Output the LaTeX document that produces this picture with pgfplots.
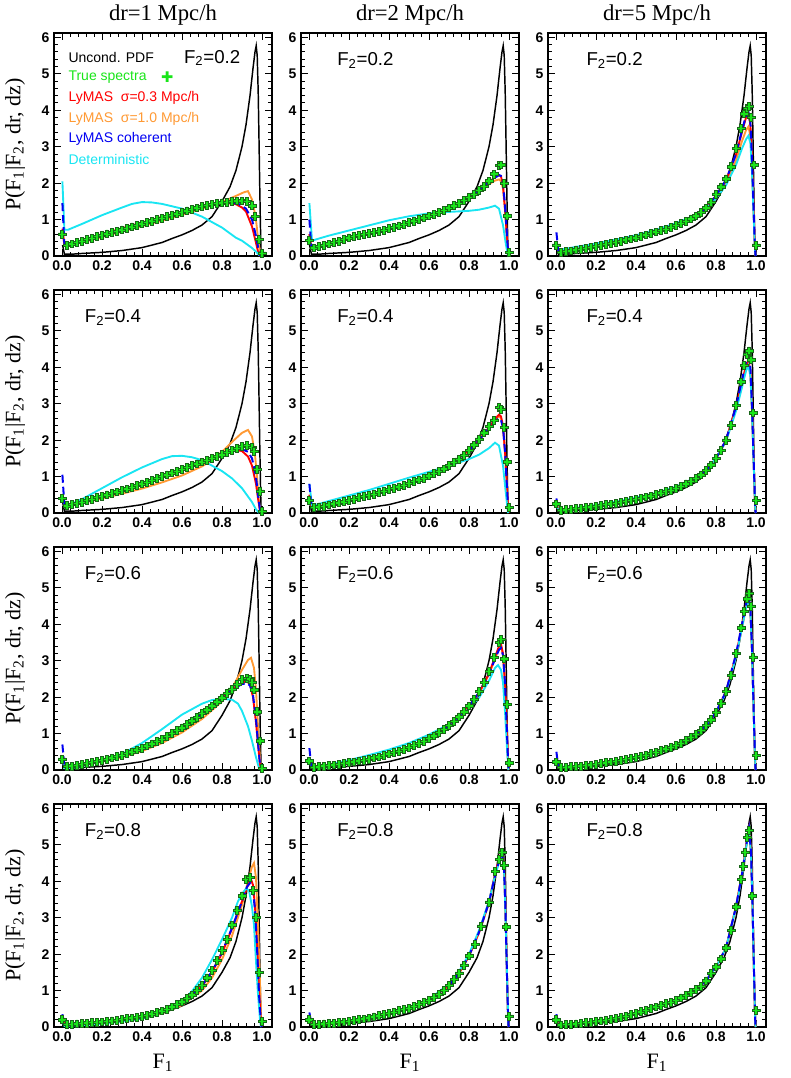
\documentclass[border=0pt]{standalone}
\usepackage{fontspec}
\setmainfont{Liberation Serif}
\setsansfont{Liberation Sans}[BoldFont={Liberation Sans Bold}]
\newfontfamily\dejavu{DejaVu Sans}
\usepackage{pgfplots}
\usepackage{pgfplotstable}
\pgfplotsset{compat=1.18}

\definecolor{tgreen}{rgb}{0.1,0.9,0.1}
\definecolor{dgreen}{rgb}{0.1,0.4,0.1}
\definecolor{lred}{rgb}{1,0,0}
\definecolor{lorange}{rgb}{1,0.6,0.2}
\definecolor{lblue}{rgb}{0,0,0.95}
\definecolor{lcyan}{rgb}{0.1,0.9,0.95}

% filled cross marker (ROOT style 34)
\pgfdeclareplotmark{fcross}{%
  \pgfpathmoveto{\pgfqpoint{-0.3\pgfplotmarksize}{\pgfplotmarksize}}%
  \pgfpathlineto{\pgfqpoint{0.3\pgfplotmarksize}{\pgfplotmarksize}}%
  \pgfpathlineto{\pgfqpoint{0.3\pgfplotmarksize}{0.3\pgfplotmarksize}}%
  \pgfpathlineto{\pgfqpoint{\pgfplotmarksize}{0.3\pgfplotmarksize}}%
  \pgfpathlineto{\pgfqpoint{\pgfplotmarksize}{-0.3\pgfplotmarksize}}%
  \pgfpathlineto{\pgfqpoint{0.3\pgfplotmarksize}{-0.3\pgfplotmarksize}}%
  \pgfpathlineto{\pgfqpoint{0.3\pgfplotmarksize}{-\pgfplotmarksize}}%
  \pgfpathlineto{\pgfqpoint{-0.3\pgfplotmarksize}{-\pgfplotmarksize}}%
  \pgfpathlineto{\pgfqpoint{-0.3\pgfplotmarksize}{-0.3\pgfplotmarksize}}%
  \pgfpathlineto{\pgfqpoint{-\pgfplotmarksize}{-0.3\pgfplotmarksize}}%
  \pgfpathlineto{\pgfqpoint{-\pgfplotmarksize}{0.3\pgfplotmarksize}}%
  \pgfpathlineto{\pgfqpoint{-0.3\pgfplotmarksize}{0.3\pgfplotmarksize}}%
  \pgfpathclose
  \pgfusepathqfillstroke
}

\pgfplotsset{
  panel/.style={
    anchor=north west,
    width=163.5pt, height=167.25pt, scale only axis,
    xmin=-0.04, xmax=1.05, ymin=0, ymax=6.12,
    xtick={0,0.2,0.4,0.6,0.8,1.0}, ytick={0,1,2,3,4,5,6},
    minor x tick num=4, minor y tick num=4,
    tick align=inside,
    major tick length=5.5pt, minor tick length=2.8pt,
    every tick/.style={black, line width=0.7pt},
    axis line style={line width=1.1pt},
    /pgf/number format/assume math mode=true,
    tick label style={font=\sffamily\bfseries\fontsize{10.5}{12}\selectfont},
    xticklabel style={/pgf/number format/.cd, fixed, fixed zerofill, precision=1},
  },
  unc/.style={black, line width=1.1pt},
  tru/.style={only marks, mark=fcross, mark size=2.9pt,
    mark options={fill=tgreen, draw=dgreen, line width=0.55pt}},
  lyr/.style={lred, line width=1.4pt},
  lyo/.style={lorange, line width=1.4pt},
  lyb/.style={lblue, line width=1.5pt, dash pattern=on 6pt off 3pt},
  det/.style={lcyan, line width=1.4pt},
}
\tikzset{
  flab/.style={anchor=west, font=\sffamily\fontsize{14}{16}\selectfont},
  leg/.style={anchor=west, font=\sffamily\fontsize{10.5}{12}\selectfont},
}

% unconditional PDF, same in every panel
\pgfplotstableread{
x y
0.003 0.3
0.012 0.05
0.05 0.05
0.1 0.07
0.2 0.1
0.3 0.15
0.4 0.23
0.5 0.37
0.55 0.48
0.6 0.58
0.65 0.7
0.7 0.85
0.75 1.08
0.8 1.5
0.84 1.9
0.87 2.35
0.9 3.0
0.92 3.6
0.94 4.4
0.955 5.15
0.965 5.6
0.971 5.77
0.976 5.5
0.981 4.5
0.985 3.2
0.989 1.8
0.993 0.6
0.996 0
}\uncond

\begin{document}
\begin{tikzpicture}
\useasboundingbox (0,0) rectangle (592.5pt,-808.5pt);

% ---------------- row 1 : F2 = 0.2 ----------------
\begin{axis}[panel, at={(40.5pt,-24.75pt)}]
\addplot[unc] table {\uncond};
\addplot[lyo] coordinates {(0.002,0.7)(0.012,0.3)(0.05,0.31)(0.1,0.37)(0.2,0.52)(0.3,0.67)(0.4,0.82)(0.5,0.97)(0.6,1.13)(0.7,1.3)(0.79,1.46)(0.87,1.65)(0.91,1.75)(0.93,1.78)(0.95,1.55)(0.968,1.08)(0.978,0.6)(0.985,0.3)(0.993,0)};
\addplot[lyr] coordinates {(0.002,0.75)(0.012,0.3)(0.05,0.35)(0.1,0.42)(0.2,0.6)(0.3,0.76)(0.4,0.92)(0.5,1.07)(0.6,1.22)(0.7,1.36)(0.75,1.42)(0.8,1.45)(0.85,1.44)(0.87,1.42)(0.9,1.33)(0.92,1.22)(0.95,0.81)(0.97,0.36)(0.98,0.12)(0.99,0)};
\addplot[det] coordinates {(0.002,2.05)(0.012,0.72)(0.03,0.72)(0.1,0.88)(0.2,1.12)(0.3,1.33)(0.35,1.43)(0.4,1.48)(0.45,1.47)(0.5,1.43)(0.6,1.3)(0.7,1.08)(0.75,0.93)(0.8,0.78)(0.87,0.5)(0.9,0.42)(0.95,0.22)(0.97,0.12)(0.985,0.03)(1.0,0)};
\addplot[lyb] coordinates {(0.002,1.45)(0.012,0.3)(0.05,0.34)(0.1,0.41)(0.2,0.58)(0.3,0.74)(0.4,0.9)(0.5,1.05)(0.6,1.2)(0.7,1.35)(0.75,1.41)(0.8,1.45)(0.85,1.46)(0.88,1.44)(0.92,1.3)(0.95,1.0)(0.97,0.55)(0.98,0.25)(0.99,0.03)(0.995,0)};
\addplot[tru] coordinates {(0,0.6)(0.025,0.3)(0.05,0.33)(0.075,0.37)(0.1,0.41)(0.125,0.45)(0.15,0.49)(0.175,0.53)(0.2,0.57)(0.225,0.61)(0.25,0.65)(0.275,0.68)(0.3,0.72)(0.325,0.76)(0.35,0.8)(0.375,0.84)(0.4,0.88)(0.425,0.92)(0.45,0.96)(0.475,1.0)(0.5,1.04)(0.525,1.08)(0.55,1.12)(0.575,1.16)(0.6,1.2)(0.625,1.24)(0.65,1.28)(0.675,1.32)(0.7,1.36)(0.725,1.39)(0.75,1.42)(0.775,1.44)(0.8,1.46)(0.825,1.48)(0.85,1.5)(0.875,1.51)(0.9,1.51)(0.925,1.5)(0.95,1.38)(0.965,1.08)(0.985,0.45)(1.0,0.08)};
\node[flab] at (rel axis cs:0.575,0.888) {F\textsubscript{2}=0.2};
\node[leg, text=black] at (rel axis cs:0.045,0.892) {Uncond. PDF};
\node[leg, text=tgreen] at (rel axis cs:0.045,0.8) {True spectra};
\node[text=tgreen, font=\dejavu\fontsize{11}{11}\selectfont] at (rel axis cs:0.52,0.8) {✚};
\node[leg, text=lred] at (rel axis cs:0.045,0.708) {LyMAS~~σ=0.3 Mpc/h};
\node[leg, text=lorange] at (rel axis cs:0.045,0.616) {LyMAS~~σ=1.0 Mpc/h};
\node[leg, text=lblue] at (rel axis cs:0.045,0.524) {LyMAS coherent};
\node[leg, text=lcyan] at (rel axis cs:0.045,0.432) {Deterministic};
\end{axis}

\begin{axis}[panel, at={(225.75pt,-24.75pt)}]
\addplot[unc] table {\uncond};
\addplot[lyo] coordinates {(0.002,0.6)(0.012,0.22)(0.05,0.26)(0.1,0.32)(0.2,0.47)(0.3,0.6)(0.4,0.74)(0.5,0.9)(0.6,1.08)(0.7,1.3)(0.8,1.58)(0.85,1.77)(0.9,1.97)(0.93,2.07)(0.95,2.1)(0.96,2.05)(0.97,1.85)(0.98,1.25)(0.99,0.5)(0.997,0)};
\addplot[lyr] coordinates {(0.002,0.6)(0.012,0.2)(0.05,0.25)(0.1,0.32)(0.2,0.48)(0.3,0.61)(0.4,0.75)(0.5,0.91)(0.6,1.09)(0.7,1.31)(0.8,1.6)(0.85,1.8)(0.9,2.02)(0.93,2.17)(0.95,2.22)(0.96,2.18)(0.97,1.95)(0.98,1.3)(0.99,0.5)(0.997,0)};
\addplot[det] coordinates {(0.002,1.45)(0.015,0.42)(0.05,0.48)(0.1,0.56)(0.2,0.7)(0.3,0.84)(0.4,0.98)(0.5,1.09)(0.6,1.17)(0.7,1.21)(0.8,1.24)(0.85,1.27)(0.9,1.33)(0.93,1.38)(0.95,1.3)(0.97,0.85)(0.985,0.3)(0.995,0)};
\addplot[lyb] coordinates {(0.002,1.0)(0.012,0.2)(0.05,0.25)(0.1,0.31)(0.2,0.47)(0.3,0.61)(0.4,0.75)(0.5,0.91)(0.6,1.09)(0.7,1.31)(0.8,1.6)(0.85,1.8)(0.9,2.02)(0.93,2.15)(0.95,2.22)(0.96,2.2)(0.97,2.0)(0.98,1.4)(0.99,0.55)(0.997,0)};
\addplot[tru] coordinates {(0,0.42)(0.025,0.22)(0.05,0.27)(0.075,0.3)(0.1,0.33)(0.125,0.37)(0.15,0.41)(0.175,0.45)(0.2,0.5)(0.225,0.53)(0.25,0.56)(0.275,0.59)(0.3,0.62)(0.325,0.65)(0.35,0.68)(0.375,0.71)(0.4,0.75)(0.425,0.79)(0.45,0.83)(0.475,0.87)(0.5,0.92)(0.525,0.96)(0.55,1.0)(0.575,1.05)(0.6,1.1)(0.625,1.15)(0.65,1.2)(0.675,1.26)(0.7,1.32)(0.725,1.38)(0.75,1.45)(0.775,1.53)(0.8,1.61)(0.825,1.7)(0.85,1.8)(0.875,1.92)(0.9,2.06)(0.925,2.25)(0.95,2.48)(0.96,2.5)(0.975,2.0)(0.99,1.1)(1.0,0.1)};
\node[flab] at (rel axis cs:0.145,0.875) {F\textsubscript{2}=0.2};
\end{axis}

\begin{axis}[panel, at={(411pt,-24.75pt)}]
\addplot[unc] table {\uncond};
\addplot[lyo] coordinates {(0.002,0.4)(0.012,0.14)(0.05,0.15)(0.1,0.2)(0.2,0.3)(0.3,0.4)(0.4,0.52)(0.5,0.68)(0.6,0.86)(0.7,1.1)(0.75,1.3)(0.8,1.6)(0.85,1.98)(0.9,2.62)(0.93,3.15)(0.95,3.45)(0.962,3.55)(0.972,3.3)(0.98,2.4)(0.988,1.2)(0.995,0.2)(0.998,0)};
\addplot[lyr] coordinates {(0.002,0.4)(0.012,0.12)(0.05,0.13)(0.1,0.18)(0.2,0.28)(0.3,0.38)(0.4,0.5)(0.5,0.66)(0.6,0.84)(0.7,1.1)(0.75,1.32)(0.8,1.66)(0.85,2.08)(0.9,2.78)(0.93,3.4)(0.95,3.8)(0.962,3.9)(0.972,3.6)(0.98,2.6)(0.988,1.3)(0.995,0.2)(0.998,0)};
\addplot[det] coordinates {(0.002,0.4)(0.012,0.17)(0.05,0.2)(0.1,0.25)(0.2,0.34)(0.3,0.45)(0.4,0.57)(0.5,0.72)(0.6,0.9)(0.7,1.13)(0.75,1.3)(0.8,1.58)(0.85,1.94)(0.9,2.5)(0.93,2.95)(0.95,3.2)(0.962,3.3)(0.972,3.1)(0.98,2.3)(0.988,1.1)(0.995,0.2)(0.998,0)};
\addplot[lyb] coordinates {(0.002,0.65)(0.012,0.12)(0.05,0.13)(0.1,0.18)(0.2,0.28)(0.3,0.38)(0.4,0.5)(0.5,0.66)(0.6,0.84)(0.7,1.1)(0.75,1.32)(0.8,1.66)(0.85,2.09)(0.9,2.8)(0.93,3.45)(0.95,3.85)(0.962,3.95)(0.972,3.65)(0.98,2.65)(0.988,1.3)(0.995,0.2)(0.998,0)};
\addplot[tru] coordinates {(0,0.3)(0.025,0.1)(0.05,0.12)(0.075,0.14)(0.1,0.17)(0.125,0.19)(0.15,0.21)(0.175,0.24)(0.2,0.27)(0.225,0.29)(0.25,0.32)(0.275,0.35)(0.3,0.38)(0.325,0.41)(0.35,0.44)(0.375,0.47)(0.4,0.5)(0.425,0.54)(0.45,0.58)(0.475,0.62)(0.5,0.66)(0.525,0.7)(0.55,0.74)(0.575,0.79)(0.6,0.84)(0.625,0.89)(0.65,0.95)(0.675,1.02)(0.7,1.1)(0.725,1.2)(0.75,1.32)(0.775,1.48)(0.8,1.7)(0.825,1.9)(0.85,2.12)(0.875,2.45)(0.9,2.95)(0.925,3.5)(0.94,3.9)(0.955,4.05)(0.965,4.1)(0.975,3.8)(0.99,2.5)(1.0,0.3)};
\node[flab] at (rel axis cs:0.155,0.875) {F\textsubscript{2}=0.2};
\end{axis}

% ---------------- row 2 : F2 = 0.4 ----------------
\begin{axis}[panel, at={(40.5pt,-217.5pt)}]
\addplot[unc] table {\uncond};
\addplot[lyo] coordinates {(0.002,0.5)(0.012,0.2)(0.05,0.22)(0.1,0.27)(0.2,0.4)(0.3,0.53)(0.4,0.67)(0.5,0.84)(0.6,1.03)(0.7,1.28)(0.75,1.45)(0.8,1.68)(0.85,1.95)(0.9,2.2)(0.93,2.28)(0.95,2.1)(0.965,1.6)(0.975,1.0)(0.985,0.3)(0.995,0)};
\addplot[lyr] coordinates {(0.002,0.5)(0.012,0.2)(0.05,0.24)(0.1,0.31)(0.2,0.47)(0.3,0.63)(0.4,0.81)(0.5,1.01)(0.6,1.2)(0.7,1.4)(0.8,1.6)(0.85,1.7)(0.88,1.72)(0.9,1.7)(0.93,1.55)(0.95,1.3)(0.97,0.8)(0.98,0.4)(0.99,0.05)(0.995,0)};
\addplot[det] coordinates {(0.002,0.45)(0.012,0.2)(0.05,0.26)(0.1,0.38)(0.2,0.68)(0.3,0.98)(0.4,1.25)(0.5,1.48)(0.55,1.56)(0.6,1.57)(0.65,1.53)(0.7,1.45)(0.8,1.15)(0.85,0.95)(0.9,0.68)(0.95,0.3)(0.97,0.1)(0.985,0)};
\addplot[lyb] coordinates {(0.002,1.05)(0.012,0.2)(0.05,0.24)(0.1,0.31)(0.2,0.47)(0.3,0.63)(0.4,0.81)(0.5,1.01)(0.6,1.2)(0.7,1.4)(0.8,1.6)(0.85,1.7)(0.88,1.74)(0.9,1.75)(0.93,1.68)(0.95,1.5)(0.97,1.0)(0.98,0.5)(0.99,0.1)(0.995,0)};
\addplot[tru] coordinates {(0,0.4)(0.025,0.2)(0.05,0.23)(0.075,0.27)(0.1,0.3)(0.125,0.34)(0.15,0.38)(0.175,0.42)(0.2,0.46)(0.225,0.5)(0.25,0.54)(0.275,0.58)(0.3,0.62)(0.325,0.66)(0.35,0.7)(0.375,0.75)(0.4,0.8)(0.425,0.85)(0.45,0.9)(0.475,0.95)(0.5,1.0)(0.525,1.05)(0.55,1.1)(0.575,1.15)(0.6,1.2)(0.625,1.25)(0.65,1.3)(0.675,1.35)(0.7,1.4)(0.725,1.45)(0.75,1.5)(0.775,1.55)(0.8,1.6)(0.825,1.66)(0.85,1.72)(0.875,1.78)(0.9,1.82)(0.925,1.85)(0.95,1.8)(0.96,1.7)(0.975,1.2)(0.99,0.6)(1.0,0.05)};
\node[flab] at (rel axis cs:0.12,0.875) {F\textsubscript{2}=0.4};
\end{axis}

\begin{axis}[panel, at={(225.75pt,-217.5pt)}]
\addplot[unc] table {\uncond};
\addplot[lyo] coordinates {(0.002,0.5)(0.012,0.17)(0.05,0.19)(0.1,0.24)(0.2,0.36)(0.3,0.5)(0.4,0.65)(0.5,0.82)(0.6,1.03)(0.7,1.31)(0.8,1.72)(0.85,2.0)(0.9,2.33)(0.93,2.55)(0.95,2.65)(0.96,2.6)(0.97,2.35)(0.98,1.65)(0.99,0.7)(0.997,0)};
\addplot[lyr] coordinates {(0.002,0.5)(0.012,0.16)(0.05,0.18)(0.1,0.23)(0.2,0.35)(0.3,0.49)(0.4,0.64)(0.5,0.81)(0.6,1.02)(0.7,1.3)(0.8,1.72)(0.85,2.0)(0.9,2.35)(0.93,2.58)(0.95,2.7)(0.96,2.65)(0.97,2.4)(0.98,1.7)(0.99,0.7)(0.997,0)};
\addplot[det] coordinates {(0.002,0.8)(0.015,0.2)(0.05,0.25)(0.1,0.33)(0.2,0.48)(0.3,0.63)(0.4,0.8)(0.5,0.97)(0.6,1.13)(0.7,1.29)(0.8,1.48)(0.85,1.6)(0.9,1.78)(0.93,1.93)(0.95,1.85)(0.97,1.3)(0.985,0.5)(0.995,0)};
\addplot[lyb] coordinates {(0.002,0.8)(0.012,0.16)(0.05,0.18)(0.1,0.23)(0.2,0.35)(0.3,0.49)(0.4,0.64)(0.5,0.81)(0.6,1.02)(0.7,1.3)(0.8,1.72)(0.85,2.0)(0.9,2.33)(0.93,2.52)(0.95,2.6)(0.96,2.55)(0.97,2.35)(0.98,1.7)(0.99,0.7)(0.997,0)};
\addplot[tru] coordinates {(0,0.35)(0.025,0.15)(0.05,0.17)(0.075,0.19)(0.1,0.22)(0.125,0.25)(0.15,0.28)(0.175,0.31)(0.2,0.35)(0.225,0.38)(0.25,0.42)(0.275,0.45)(0.3,0.49)(0.325,0.52)(0.35,0.56)(0.375,0.6)(0.4,0.64)(0.425,0.68)(0.45,0.72)(0.475,0.76)(0.5,0.81)(0.525,0.86)(0.55,0.91)(0.575,0.96)(0.6,1.02)(0.625,1.08)(0.65,1.14)(0.675,1.21)(0.7,1.3)(0.725,1.39)(0.75,1.48)(0.775,1.59)(0.8,1.72)(0.825,1.87)(0.85,2.03)(0.875,2.2)(0.9,2.38)(0.925,2.55)(0.95,2.9)(0.96,2.85)(0.975,2.35)(0.99,1.4)(1.0,0.15)};
\node[flab] at (rel axis cs:0.145,0.875) {F\textsubscript{2}=0.4};
\end{axis}

\begin{axis}[panel, at={(411pt,-217.5pt)}]
\addplot[unc] table {\uncond};
\addplot[lyo] coordinates {(0.002,0.25)(0.012,0.09)(0.05,0.1)(0.1,0.13)(0.2,0.2)(0.3,0.28)(0.4,0.39)(0.5,0.52)(0.6,0.69)(0.7,0.95)(0.75,1.16)(0.8,1.48)(0.85,1.97)(0.9,2.85)(0.93,3.5)(0.95,3.95)(0.962,4.1)(0.972,3.8)(0.98,2.8)(0.988,1.45)(0.995,0.3)(0.998,0)};
\addplot[lyr] coordinates {(0.002,0.25)(0.012,0.08)(0.05,0.09)(0.1,0.12)(0.2,0.19)(0.3,0.27)(0.4,0.38)(0.5,0.51)(0.6,0.68)(0.7,0.95)(0.75,1.17)(0.8,1.5)(0.85,2.0)(0.9,2.9)(0.93,3.6)(0.95,4.05)(0.962,4.2)(0.972,3.9)(0.98,2.9)(0.988,1.5)(0.995,0.3)(0.998,0)};
\addplot[det] coordinates {(0.002,0.2)(0.012,0.09)(0.05,0.1)(0.1,0.14)(0.2,0.22)(0.3,0.31)(0.4,0.42)(0.5,0.55)(0.6,0.72)(0.7,0.98)(0.75,1.18)(0.8,1.5)(0.85,1.97)(0.9,2.8)(0.93,3.45)(0.95,3.9)(0.962,4.05)(0.972,3.75)(0.98,2.8)(0.988,1.4)(0.995,0.3)(0.998,0)};
\addplot[lyb] coordinates {(0.002,0.4)(0.012,0.08)(0.05,0.09)(0.1,0.12)(0.2,0.19)(0.3,0.27)(0.4,0.38)(0.5,0.51)(0.6,0.68)(0.7,0.95)(0.75,1.17)(0.8,1.5)(0.85,2.0)(0.9,2.92)(0.93,3.65)(0.95,4.15)(0.962,4.3)(0.972,4.0)(0.98,2.95)(0.988,1.5)(0.995,0.3)(0.998,0)};
\addplot[tru] coordinates {(0,0.25)(0.025,0.08)(0.05,0.09)(0.075,0.1)(0.1,0.12)(0.125,0.13)(0.15,0.15)(0.175,0.17)(0.2,0.19)(0.225,0.21)(0.25,0.23)(0.275,0.25)(0.3,0.27)(0.325,0.3)(0.35,0.32)(0.375,0.35)(0.4,0.38)(0.425,0.41)(0.45,0.44)(0.475,0.47)(0.5,0.51)(0.525,0.55)(0.55,0.59)(0.575,0.63)(0.6,0.68)(0.625,0.74)(0.65,0.8)(0.675,0.87)(0.7,0.95)(0.725,1.05)(0.75,1.17)(0.775,1.32)(0.8,1.5)(0.825,1.72)(0.85,2.0)(0.875,2.4)(0.9,2.95)(0.925,3.6)(0.94,4.05)(0.955,4.35)(0.965,4.45)(0.975,4.2)(0.985,2.75)(1.0,0.35)};
\node[flab] at (rel axis cs:0.155,0.875) {F\textsubscript{2}=0.4};
\end{axis}

% ---------------- row 3 : F2 = 0.6 ----------------
\begin{axis}[panel, at={(40.5pt,-410.25pt)}]
\addplot[unc] table {\uncond};
\addplot[lyo] coordinates {(0.002,0.3)(0.012,0.1)(0.05,0.1)(0.1,0.13)(0.2,0.23)(0.3,0.35)(0.4,0.52)(0.5,0.74)(0.6,1.03)(0.7,1.4)(0.8,1.88)(0.85,2.25)(0.9,2.75)(0.93,3.02)(0.945,3.08)(0.96,2.8)(0.97,2.2)(0.98,1.2)(0.99,0.3)(0.995,0)};
\addplot[lyr] coordinates {(0.002,0.35)(0.012,0.1)(0.05,0.11)(0.1,0.15)(0.2,0.27)(0.3,0.41)(0.4,0.6)(0.5,0.85)(0.6,1.16)(0.7,1.55)(0.8,1.98)(0.85,2.2)(0.9,2.4)(0.925,2.43)(0.94,2.35)(0.955,2.0)(0.97,1.3)(0.98,0.7)(0.99,0.15)(0.995,0)};
\addplot[det] coordinates {(0.002,0.3)(0.012,0.05)(0.05,0.06)(0.1,0.11)(0.2,0.24)(0.3,0.44)(0.4,0.74)(0.5,1.12)(0.6,1.52)(0.7,1.82)(0.75,1.92)(0.8,1.95)(0.85,1.93)(0.88,1.82)(0.9,1.62)(0.93,1.2)(0.95,0.8)(0.97,0.35)(0.985,0.05)(0.995,0)};
\addplot[lyb] coordinates {(0.002,0.7)(0.012,0.1)(0.05,0.11)(0.1,0.15)(0.2,0.27)(0.3,0.41)(0.4,0.6)(0.5,0.85)(0.6,1.16)(0.7,1.55)(0.8,1.98)(0.85,2.2)(0.9,2.36)(0.925,2.38)(0.94,2.32)(0.955,2.05)(0.97,1.4)(0.98,0.75)(0.99,0.15)(0.995,0)};
\addplot[tru] coordinates {(0,0.3)(0.025,0.1)(0.05,0.11)(0.075,0.13)(0.1,0.15)(0.125,0.18)(0.15,0.21)(0.175,0.24)(0.2,0.27)(0.225,0.3)(0.25,0.33)(0.275,0.37)(0.3,0.41)(0.325,0.45)(0.35,0.5)(0.375,0.55)(0.4,0.6)(0.425,0.66)(0.45,0.72)(0.475,0.78)(0.5,0.85)(0.525,0.92)(0.55,1.0)(0.575,1.08)(0.6,1.16)(0.625,1.25)(0.65,1.35)(0.675,1.45)(0.7,1.55)(0.725,1.65)(0.75,1.76)(0.775,1.87)(0.8,1.98)(0.825,2.1)(0.85,2.22)(0.875,2.35)(0.9,2.48)(0.925,2.52)(0.94,2.5)(0.95,2.4)(0.96,2.2)(0.975,1.6)(0.99,0.8)(1.0,0.05)};
\node[flab] at (rel axis cs:0.12,0.875) {F\textsubscript{2}=0.6};
\end{axis}

\begin{axis}[panel, at={(225.75pt,-410.25pt)}]
\addplot[unc] table {\uncond};
\addplot[lyo] coordinates {(0.002,0.3)(0.012,0.08)(0.05,0.09)(0.1,0.12)(0.2,0.2)(0.3,0.3)(0.4,0.44)(0.5,0.62)(0.6,0.86)(0.7,1.22)(0.8,1.75)(0.85,2.1)(0.9,2.62)(0.93,3.05)(0.95,3.35)(0.96,3.4)(0.97,3.15)(0.98,2.35)(0.99,1.0)(0.997,0)};
\addplot[lyr] coordinates {(0.002,0.3)(0.012,0.08)(0.05,0.09)(0.1,0.12)(0.2,0.2)(0.3,0.3)(0.4,0.44)(0.5,0.62)(0.6,0.86)(0.7,1.22)(0.8,1.76)(0.85,2.12)(0.9,2.65)(0.93,3.1)(0.95,3.4)(0.96,3.45)(0.97,3.2)(0.98,2.4)(0.99,1.0)(0.997,0)};
\addplot[det] coordinates {(0.002,0.25)(0.012,0.08)(0.05,0.1)(0.1,0.15)(0.2,0.27)(0.3,0.41)(0.4,0.56)(0.5,0.74)(0.6,0.97)(0.7,1.26)(0.8,1.68)(0.85,1.98)(0.9,2.45)(0.93,2.8)(0.945,2.88)(0.96,2.75)(0.97,2.4)(0.98,1.6)(0.99,0.6)(0.997,0)};
\addplot[lyb] coordinates {(0.002,0.6)(0.012,0.08)(0.05,0.09)(0.1,0.12)(0.2,0.2)(0.3,0.3)(0.4,0.44)(0.5,0.62)(0.6,0.86)(0.7,1.22)(0.8,1.76)(0.85,2.12)(0.9,2.63)(0.93,3.05)(0.95,3.3)(0.96,3.35)(0.97,3.15)(0.98,2.4)(0.99,1.0)(0.997,0)};
\addplot[tru] coordinates {(0,0.25)(0.025,0.08)(0.05,0.09)(0.075,0.11)(0.1,0.12)(0.125,0.14)(0.15,0.16)(0.175,0.18)(0.2,0.2)(0.225,0.22)(0.25,0.25)(0.275,0.27)(0.3,0.3)(0.325,0.33)(0.35,0.36)(0.375,0.4)(0.4,0.44)(0.425,0.48)(0.45,0.52)(0.475,0.57)(0.5,0.62)(0.525,0.67)(0.55,0.73)(0.575,0.79)(0.6,0.86)(0.625,0.94)(0.65,1.03)(0.675,1.12)(0.7,1.22)(0.725,1.34)(0.75,1.46)(0.775,1.6)(0.8,1.76)(0.825,1.94)(0.85,2.15)(0.875,2.4)(0.9,2.7)(0.925,3.1)(0.95,3.5)(0.96,3.58)(0.975,3.05)(0.99,1.8)(1.0,0.2)};
\node[flab] at (rel axis cs:0.145,0.875) {F\textsubscript{2}=0.6};
\end{axis}

\begin{axis}[panel, at={(411pt,-410.25pt)}]
\addplot[unc] table {\uncond};
\addplot[lyo] coordinates {(0.002,0.2)(0.012,0.07)(0.05,0.08)(0.1,0.1)(0.2,0.16)(0.3,0.24)(0.4,0.35)(0.5,0.49)(0.6,0.68)(0.7,0.98)(0.75,1.22)(0.8,1.58)(0.85,2.15)(0.9,3.12)(0.93,3.9)(0.95,4.45)(0.962,4.7)(0.972,4.35)(0.98,3.25)(0.988,1.7)(0.995,0.35)(0.998,0)};
\addplot[lyr] coordinates {(0.002,0.2)(0.012,0.07)(0.05,0.08)(0.1,0.1)(0.2,0.16)(0.3,0.24)(0.4,0.35)(0.5,0.49)(0.6,0.68)(0.7,0.98)(0.75,1.22)(0.8,1.58)(0.85,2.15)(0.9,3.15)(0.93,3.95)(0.95,4.5)(0.962,4.75)(0.972,4.4)(0.98,3.3)(0.988,1.7)(0.995,0.35)(0.998,0)};
\addplot[det] coordinates {(0.002,0.15)(0.012,0.08)(0.05,0.09)(0.1,0.11)(0.2,0.17)(0.3,0.25)(0.4,0.36)(0.5,0.5)(0.6,0.69)(0.7,0.99)(0.75,1.23)(0.8,1.58)(0.85,2.12)(0.9,3.1)(0.93,3.9)(0.95,4.45)(0.962,4.7)(0.972,4.35)(0.98,3.25)(0.988,1.65)(0.995,0.35)(0.998,0)};
\addplot[lyb] coordinates {(0.002,0.5)(0.012,0.07)(0.05,0.08)(0.1,0.1)(0.2,0.16)(0.3,0.24)(0.4,0.35)(0.5,0.49)(0.6,0.68)(0.7,0.98)(0.75,1.22)(0.8,1.58)(0.85,2.16)(0.9,3.18)(0.93,4.0)(0.95,4.55)(0.962,4.8)(0.972,4.45)(0.98,3.35)(0.988,1.7)(0.995,0.35)(0.998,0)};
\addplot[tru] coordinates {(0,0.22)(0.025,0.07)(0.05,0.08)(0.075,0.09)(0.1,0.1)(0.125,0.11)(0.15,0.13)(0.175,0.14)(0.2,0.16)(0.225,0.18)(0.25,0.2)(0.275,0.22)(0.3,0.24)(0.325,0.26)(0.35,0.29)(0.375,0.32)(0.4,0.35)(0.425,0.38)(0.45,0.41)(0.475,0.45)(0.5,0.49)(0.525,0.53)(0.55,0.58)(0.575,0.63)(0.6,0.68)(0.625,0.74)(0.65,0.81)(0.675,0.89)(0.7,0.98)(0.725,1.09)(0.75,1.22)(0.775,1.38)(0.8,1.58)(0.825,1.83)(0.85,2.15)(0.875,2.6)(0.9,3.2)(0.925,3.9)(0.94,4.35)(0.955,4.7)(0.965,4.85)(0.975,4.5)(0.985,3.1)(1.0,0.4)};
\node[flab] at (rel axis cs:0.155,0.875) {F\textsubscript{2}=0.6};
\end{axis}

% ---------------- row 4 : F2 = 0.8 ----------------
\begin{axis}[panel, at={(40.5pt,-603pt)}]
\addplot[unc] table {\uncond};
\addplot[lyo] coordinates {(0.002,0.2)(0.012,0.08)(0.05,0.09)(0.1,0.1)(0.2,0.14)(0.3,0.19)(0.4,0.26)(0.5,0.38)(0.6,0.6)(0.7,1.0)(0.75,1.35)(0.8,1.85)(0.85,2.5)(0.9,3.35)(0.93,4.0)(0.95,4.4)(0.96,4.5)(0.97,4.1)(0.98,2.8)(0.99,1.2)(0.997,0)};
\addplot[lyr] coordinates {(0.002,0.2)(0.012,0.07)(0.05,0.08)(0.1,0.1)(0.2,0.14)(0.3,0.2)(0.4,0.28)(0.5,0.42)(0.6,0.66)(0.7,1.12)(0.75,1.5)(0.8,2.02)(0.85,2.7)(0.9,3.45)(0.93,3.9)(0.945,4.05)(0.955,3.9)(0.965,3.3)(0.975,2.3)(0.985,1.0)(0.995,0.1)(0.998,0)};
\addplot[det] coordinates {(0.002,0.15)(0.012,0.03)(0.05,0.04)(0.1,0.05)(0.2,0.09)(0.3,0.15)(0.4,0.24)(0.5,0.4)(0.6,0.72)(0.65,0.98)(0.7,1.35)(0.75,1.85)(0.8,2.4)(0.85,3.0)(0.88,3.45)(0.9,3.65)(0.92,3.8)(0.935,3.75)(0.95,3.3)(0.96,2.8)(0.97,1.8)(0.98,0.9)(0.99,0.2)(0.995,0)};
\addplot[lyb] coordinates {(0.002,0.35)(0.012,0.07)(0.05,0.08)(0.1,0.1)(0.2,0.14)(0.3,0.2)(0.4,0.28)(0.5,0.42)(0.6,0.67)(0.7,1.14)(0.75,1.52)(0.8,2.05)(0.85,2.72)(0.9,3.45)(0.925,3.85)(0.94,3.95)(0.955,3.75)(0.965,3.2)(0.975,2.2)(0.985,0.9)(0.995,0.1)(0.998,0)};
\addplot[tru] coordinates {(0,0.2)(0.025,0.07)(0.05,0.08)(0.075,0.09)(0.1,0.1)(0.125,0.11)(0.15,0.12)(0.175,0.13)(0.2,0.14)(0.225,0.15)(0.25,0.17)(0.275,0.19)(0.3,0.21)(0.325,0.23)(0.35,0.25)(0.375,0.27)(0.4,0.29)(0.425,0.32)(0.45,0.36)(0.475,0.4)(0.5,0.44)(0.525,0.49)(0.55,0.55)(0.575,0.62)(0.6,0.69)(0.625,0.78)(0.65,0.88)(0.675,1.0)(0.7,1.15)(0.725,1.35)(0.75,1.55)(0.775,1.82)(0.8,2.1)(0.825,2.4)(0.85,2.8)(0.875,3.2)(0.9,3.6)(0.92,4.05)(0.94,4.1)(0.955,3.75)(0.97,3.0)(0.985,1.5)(1.0,0.15)};
\node[flab] at (rel axis cs:0.12,0.875) {F\textsubscript{2}=0.8};
\end{axis}

\begin{axis}[panel, at={(225.75pt,-603pt)}]
\addplot[unc] table {\uncond};
\addplot[lyo] coordinates {(0.002,0.2)(0.012,0.07)(0.05,0.08)(0.1,0.1)(0.2,0.16)(0.3,0.25)(0.4,0.38)(0.5,0.52)(0.6,0.74)(0.7,1.13)(0.75,1.47)(0.8,1.94)(0.85,2.58)(0.9,3.4)(0.93,4.18)(0.95,4.58)(0.965,4.78)(0.975,4.42)(0.982,3.3)(0.99,1.4)(0.996,0.2)(0.998,0)};
\addplot[lyr] coordinates {(0.002,0.2)(0.012,0.07)(0.05,0.08)(0.1,0.1)(0.2,0.16)(0.3,0.25)(0.4,0.38)(0.5,0.52)(0.6,0.74)(0.7,1.14)(0.75,1.48)(0.8,1.95)(0.85,2.6)(0.9,3.43)(0.93,4.2)(0.95,4.6)(0.965,4.82)(0.975,4.45)(0.982,3.3)(0.99,1.4)(0.996,0.2)(0.998,0)};
\addplot[det] coordinates {(0.002,0.15)(0.012,0.07)(0.05,0.08)(0.1,0.1)(0.2,0.16)(0.3,0.25)(0.4,0.38)(0.5,0.53)(0.6,0.76)(0.7,1.18)(0.75,1.52)(0.8,2.0)(0.85,2.65)(0.9,3.45)(0.93,4.15)(0.95,4.5)(0.965,4.68)(0.975,4.35)(0.982,3.2)(0.99,1.4)(0.996,0.2)(0.998,0)};
\addplot[lyb] coordinates {(0.002,0.4)(0.012,0.07)(0.05,0.08)(0.1,0.1)(0.2,0.16)(0.3,0.25)(0.4,0.38)(0.5,0.52)(0.6,0.74)(0.7,1.14)(0.75,1.48)(0.8,1.95)(0.85,2.6)(0.9,3.42)(0.93,4.15)(0.95,4.55)(0.965,4.75)(0.975,4.4)(0.982,3.3)(0.99,1.4)(0.996,0.2)(0.998,0)};
\addplot[tru] coordinates {(0,0.2)(0.025,0.07)(0.05,0.08)(0.075,0.09)(0.1,0.1)(0.125,0.11)(0.15,0.12)(0.175,0.14)(0.2,0.16)(0.225,0.18)(0.25,0.2)(0.275,0.22)(0.3,0.25)(0.325,0.28)(0.35,0.31)(0.375,0.34)(0.4,0.38)(0.425,0.41)(0.45,0.45)(0.475,0.48)(0.5,0.52)(0.525,0.57)(0.55,0.62)(0.575,0.68)(0.6,0.74)(0.625,0.81)(0.65,0.89)(0.675,1.0)(0.7,1.14)(0.725,1.3)(0.75,1.48)(0.775,1.7)(0.8,1.95)(0.83,2.27)(0.86,2.77)(0.9,3.43)(0.93,4.27)(0.95,4.6)(0.965,4.8)(0.975,4.43)(0.985,2.75)(1.0,0.3)};
\node[flab] at (rel axis cs:0.145,0.875) {F\textsubscript{2}=0.8};
\end{axis}

\begin{axis}[panel, at={(411pt,-603pt)}]
\addplot[unc] table {\uncond};
\addplot[lyo] coordinates {(0.002,0.2)(0.012,0.06)(0.05,0.07)(0.1,0.09)(0.2,0.15)(0.3,0.24)(0.4,0.38)(0.5,0.55)(0.6,0.73)(0.7,1.03)(0.75,1.27)(0.8,1.65)(0.85,2.17)(0.9,3.3)(0.93,4.2)(0.95,4.93)(0.965,5.42)(0.975,4.78)(0.982,3.5)(0.99,1.5)(0.996,0.2)(0.998,0)};
\addplot[lyr] coordinates {(0.002,0.2)(0.012,0.06)(0.05,0.07)(0.1,0.09)(0.2,0.15)(0.3,0.24)(0.4,0.38)(0.5,0.55)(0.6,0.73)(0.7,1.03)(0.75,1.27)(0.8,1.65)(0.85,2.17)(0.9,3.3)(0.93,4.2)(0.95,4.95)(0.965,5.45)(0.975,4.8)(0.982,3.5)(0.99,1.5)(0.996,0.2)(0.998,0)};
\addplot[det] coordinates {(0.002,0.15)(0.012,0.06)(0.05,0.07)(0.1,0.09)(0.2,0.15)(0.3,0.24)(0.4,0.38)(0.5,0.55)(0.6,0.73)(0.7,1.03)(0.75,1.27)(0.8,1.65)(0.85,2.17)(0.9,3.28)(0.93,4.15)(0.95,4.9)(0.965,5.4)(0.975,4.75)(0.982,3.45)(0.99,1.5)(0.996,0.2)(0.998,0)};
\addplot[lyb] coordinates {(0.002,0.35)(0.012,0.06)(0.05,0.07)(0.1,0.09)(0.2,0.15)(0.3,0.24)(0.4,0.38)(0.5,0.55)(0.6,0.73)(0.7,1.03)(0.75,1.27)(0.8,1.65)(0.85,2.17)(0.9,3.3)(0.93,4.2)(0.95,4.95)(0.965,5.45)(0.975,4.8)(0.982,3.5)(0.99,1.5)(0.996,0.2)(0.998,0)};
\addplot[tru] coordinates {(0,0.2)(0.025,0.06)(0.05,0.07)(0.075,0.08)(0.1,0.09)(0.125,0.1)(0.15,0.12)(0.175,0.13)(0.2,0.15)(0.225,0.17)(0.25,0.19)(0.275,0.21)(0.3,0.24)(0.325,0.27)(0.35,0.3)(0.375,0.34)(0.4,0.38)(0.425,0.42)(0.45,0.46)(0.475,0.51)(0.5,0.55)(0.525,0.6)(0.55,0.64)(0.575,0.68)(0.6,0.73)(0.625,0.8)(0.65,0.87)(0.675,0.95)(0.7,1.03)(0.725,1.12)(0.75,1.27)(0.775,1.47)(0.8,1.65)(0.825,1.87)(0.85,2.17)(0.875,2.65)(0.9,3.3)(0.925,4.05)(0.935,4.4)(0.945,4.8)(0.955,5.2)(0.965,5.4)(0.98,3.6)(1.0,0.45)};
\node[flab] at (rel axis cs:0.155,0.875) {F\textsubscript{2}=0.8};
\end{axis}

% column titles
\node[font=\rmfamily\fontsize{17}{19}\selectfont] at (122.25pt,-11.25pt) {dr=1 Mpc/h};
\node[font=\rmfamily\fontsize{17}{19}\selectfont] at (307.5pt,-11.25pt) {dr=2 Mpc/h};
\node[font=\rmfamily\fontsize{17}{19}\selectfont] at (492.75pt,-11.25pt) {dr=5 Mpc/h};
% row labels
\foreach \yc in {-108.375,-301.125,-493.875,-686.625}{
  \node[rotate=90, font=\rmfamily\fontsize{16.5}{18}\selectfont] at (11.25pt,\yc pt) {P(F\textsubscript{1}|F\textsubscript{2}, dr, dz)};
}
% x labels
\node[font=\rmfamily\fontsize{16.5}{18}\selectfont] at (122.25pt,-797.25pt) {F\textsubscript{1}};
\node[font=\rmfamily\fontsize{16.5}{18}\selectfont] at (307.5pt,-797.25pt) {F\textsubscript{1}};
\node[font=\rmfamily\fontsize{16.5}{18}\selectfont] at (492.75pt,-797.25pt) {F\textsubscript{1}};
\end{tikzpicture}
\end{document}
